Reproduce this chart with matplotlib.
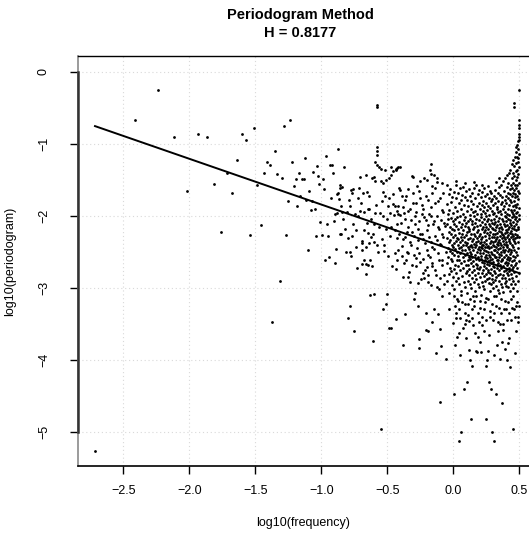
import matplotlib
matplotlib.use("Agg")
import matplotlib.pyplot as plt
import numpy as np

plt.rcParams['font.family'] = ['Liberation Sans', 'DejaVu Sans']

hurst = 0.8177
fit_intercept = -2.48
fit_slope = 1 - 2 * hurst

# lowest frequencies, read one by one (log10 freq, log10 periodogram)
low_freq = [
    (-2.714, -5.27), (-2.413, -0.67), (-2.237, -0.26), (-2.112, -0.90), (-2.015, -1.65),
    (-1.936, -0.86), (-1.869, -0.90), (-1.811, -1.56), (-1.760, -2.22), (-1.714, -1.40),
    (-1.673, -1.69), (-1.635, -1.23), (-1.600, -0.86), (-1.568, -0.95), (-1.538, -2.27),
    (-1.510, -0.78), (-1.484, -1.57), (-1.459, -2.13), (-1.435, -1.40), (-1.413, -1.25),
    (-1.392, -1.30), (-1.372, -3.48), (-1.352, -1.10), (-1.334, -1.42), (-1.316, -2.91),
    (-1.299, -1.48), (-1.283, -0.76), (-1.267, -2.27), (-1.252, -1.80), (-1.237, -0.67),
    (-1.223, -1.25), (-1.209, -1.59), (-1.195, -1.49), (-1.183, -1.87), (-1.170, -1.40),
    (-1.158, -1.72), (-1.146, -1.49), (-1.134, -1.49), (-1.123, -1.20), (-1.112, -1.78),
    (-1.101, -2.48), (-1.091, -1.65), (-1.081, -1.92), (-1.071, -1.79), (-1.061, -1.39),
    (-1.051, -1.90), (-1.042, -2.28), (-1.033, -1.31), (-1.024, -1.45), (-1.015, -1.56),
    (-1.006, -2.09), (-0.998, -2.27), (-0.990, -1.49), (-0.981, -1.63), (-0.973, -2.62),
    (-0.965, -1.17), (-0.958, -2.12), (-0.950, -2.28), (-0.942, -2.57), (-0.935, -1.30),
    (-0.928, -1.76), (-0.920, -1.29), (-0.913, -1.41), (-0.906, -2.08), (-0.899, -2.66),
    (-0.893, -1.97), (-0.886, -2.46), (-0.879, -1.70), (-0.873, -1.08), (-0.866, -1.77),
    (-0.860, -1.57), (-0.854, -2.26),
]

mid_freq = [
    (-0.83, -1.32), (-0.876, -1.68), (-0.86, -1.61), (-0.84, -1.60), (-0.775, -1.64),
    (-0.757, -1.63), (-0.765, -1.69), (-0.714, -1.61), (-0.707, -1.46), (-0.724, -1.75),
    (-0.681, -1.68), (-0.65, -1.67), (-0.64, -1.73), (-0.661, -1.44), (-0.618, -1.47),
    (-0.593, -1.52), (-0.60, -1.46), (-0.548, -1.52), (-0.53, -1.54), (-0.51, -1.50),
    (-0.49, -1.47), (-0.475, -1.44), (-0.455, -1.38), (-0.437, -1.35), (-0.417, -1.32),
    (-0.535, -1.67), (-0.518, -1.73), (-0.49, -1.76), (-0.46, -1.84), (-0.445, -1.87),
    (-0.417, -1.87), (-0.884, -1.96), (-0.85, -1.87), (-0.805, -1.95), (-0.782, -1.87),
    (-0.745, -1.97), (-0.707, -1.93), (-0.68, -1.95), (-0.644, -1.91), (-0.624, -2.05),
    (-0.593, -1.96), (-0.555, -1.96), (-0.53, -2.00), (-0.492, -1.87), (-0.48, -1.96),
    (-0.447, -1.99), (-0.421, -1.97), (-0.858, -2.26), (-0.82, -2.19), (-0.80, -2.31),
    (-0.77, -2.28), (-0.737, -2.20), (-0.694, -2.35), (-0.661, -2.44), (-0.644, -2.24),
    (-0.605, -2.26), (-0.58, -2.40), (-0.542, -2.33), (-0.51, -2.19), (-0.48, -2.28),
    (-0.43, -2.31), (-0.813, -2.51), (-0.775, -2.56), (-0.74, -2.44), (-0.694, -2.47),
    (-0.674, -2.61), (-0.644, -2.68), (-0.613, -2.70), (-0.567, -2.51), (-0.522, -2.49),
    (-0.492, -2.56), (-0.461, -2.70), (-0.437, -2.74), (-0.43, -2.61), (-0.783, -2.50),
    (-0.694, -2.38), (-0.636, -2.38), (-0.601, -2.36), (-0.727, -2.72), (-0.694, -2.67),
    (-0.661, -2.67), (-0.661, -2.81), (-0.631, -2.62), (-0.845, -1.95), (-0.835, -2.05),
    (-0.79, -1.78), (-0.76, -2.12), (-0.72, -2.00), (-0.70, -1.82), (-0.675, -2.20),
    (-0.655, -2.10), (-0.635, -1.90), (-0.62, -2.30), (-0.60, -2.12), (-0.585, -1.85),
    (-0.56, -2.16), (-0.54, -1.80), (-0.525, -2.40), (-0.505, -2.05), (-0.47, -2.15),
    (-0.455, -1.70), (-0.44, -2.52), (-0.425, -2.12), (-0.41, -1.62), (-0.55, -1.35),
    (-0.52, -1.36), (-0.47, -1.33), (-0.43, -1.34),
]

# the spike near -0.58
spike_freq = [
    (-0.58, -0.46), (-0.578, -0.49), (-0.578, -1.04), (-0.578, -1.10), (-0.58, -1.16),
    (-0.59, -1.26), (-0.575, -1.30), (-0.565, -1.33),
]

upper_mid_freq = [
    (-0.169, -1.28), (-0.177, -1.36), (-0.169, -1.42), (-0.144, -1.44), (-0.126, -1.47),
    (-0.404, -1.32), (-0.437, -1.37), (-0.31, -1.45), (-0.278, -1.59), (-0.202, -1.51),
    (-0.16, -1.59), (-0.088, -1.55), (-0.308, -1.46), (-0.25, -1.52), (-0.22, -1.48),
    (-0.05, -1.58), (-0.12, -1.53),
    (-0.404, -1.64), (-0.391, -1.73), (-0.366, -1.78), (-0.341, -1.63), (-0.303, -1.68),
    (-0.285, -1.83), (-0.252, -1.76), (-0.227, -1.90), (-0.189, -1.78), (-0.164, -1.69),
    (-0.139, -1.82), (-0.113, -1.80), (-0.088, -1.92), (-0.075, -1.69),
    (-0.429, -1.94), (-0.404, -1.99), (-0.371, -1.96), (-0.341, -1.94), (-0.32, -2.06),
    (-0.29, -2.01), (-0.26, -2.08), (-0.24, -1.97), (-0.21, -2.06), (-0.189, -2.13),
    (-0.169, -2.01), (-0.144, -2.08), (-0.119, -2.15), (-0.093, -2.06), (-0.068, -2.10),
    (-0.442, -2.20), (-0.411, -2.25), (-0.379, -2.32), (-0.353, -2.22), (-0.328, -2.36),
    (-0.295, -2.28), (-0.265, -2.34), (-0.235, -2.25), (-0.215, -2.38), (-0.184, -2.30),
    (-0.159, -2.43), (-0.126, -2.34), (-0.10, -2.39), (-0.075, -2.29),
    (-0.422, -2.48), (-0.391, -2.56), (-0.361, -2.62), (-0.341, -2.52), (-0.31, -2.69),
    (-0.285, -2.59), (-0.252, -2.64), (-0.227, -2.80), (-0.202, -2.71), (-0.189, -2.55),
    (-0.164, -2.66), (-0.139, -2.76), (-0.108, -2.62), (-0.088, -2.69), (-0.068, -2.83),
    (-0.379, -2.85), (-0.346, -2.85), (-0.328, -2.92), (-0.265, -2.94), (-0.22, -2.87),
    (-0.189, -2.83), (-0.169, -2.96), (-0.126, -2.99), (-0.10, -2.87), (-0.088, -3.12),
]

fill_mid_freq = [
    (-0.395, -2.10), (-0.388, -2.42), (-0.382, -1.88), (-0.375, -2.65), (-0.368, -2.05),
    (-0.362, -2.30), (-0.355, -1.72), (-0.348, -2.50), (-0.340, -2.15), (-0.333, -2.78),
    (-0.326, -1.90), (-0.318, -2.40), (-0.312, -2.22), (-0.305, -1.82), (-0.298, -2.55),
    (-0.292, -2.12), (-0.286, -2.70), (-0.280, -1.95), (-0.273, -2.45), (-0.268, -2.18),
    (-0.262, -1.66), (-0.256, -2.52), (-0.250, -2.25), (-0.244, -2.88), (-0.238, -1.85),
    (-0.232, -2.60), (-0.226, -2.32), (-0.220, -2.02), (-0.214, -2.75), (-0.208, -1.72),
    (-0.202, -2.48), (-0.196, -2.20), (-0.190, -2.92), (-0.184, -1.98), (-0.178, -2.58),
    (-0.172, -2.36), (-0.166, -1.88), (-0.160, -2.70), (-0.154, -2.12), (-0.148, -2.46),
    (-0.142, -1.62), (-0.136, -2.28), (-0.130, -2.82), (-0.124, -2.00), (-0.118, -2.52),
    (-0.112, -2.18), (-0.106, -3.02), (-0.100, -1.76), (-0.094, -2.40), (-0.088, -2.26),
    (-0.082, -2.62), (-0.076, -1.95), (-0.070, -2.95), (-0.064, -2.14), (-0.058, -2.50),
]

high_freq_a = [
    (-0.049, -2.31), (-0.048, -1.84), (-0.046, -2.66), (-0.045, -2.12), (-0.044, -2.90), (-0.042, -1.97), (-0.041, -2.45),
    (-0.039, -2.58), (-0.038, -2.05), (-0.036, -1.70), (-0.035, -2.37), (-0.033, -2.81), (-0.032, -2.22), (-0.031, -3.08),
    (-0.029, -1.92), (-0.028, -2.49), (-0.026, -2.15), (-0.025, -2.72), (-0.023, -1.63), (-0.022, -2.34), (-0.021, -2.60),
    (-0.019, -2.03), (-0.018, -2.77), (-0.016, -2.26), (-0.015, -1.81), (-0.013, -2.52), (-0.012, -2.96), (-0.011, -2.40),
    (-0.009, -2.18), (-0.008, -1.74), (-0.006, -2.63), (-0.005, -2.29), (-0.003, -2.85), (-0.002, -2.07), (-0.001, -2.44),
    (0.001, -1.96), (0.002, -2.55), (0.003, -2.20), (0.005, -2.74), (0.006, -1.67), (0.007, -2.38), (0.008, -3.02), (0.009, -2.11),
    (0.011, -2.46), (0.012, -1.88), (0.013, -2.68), (0.015, -2.27), (0.016, -2.05), (0.017, -2.90), (0.018, -1.58), (0.019, -2.35),
    (0.021, -2.14), (0.022, -2.79), (0.023, -1.76), (0.025, -2.50), (0.026, -2.31), (0.027, -2.02), (0.028, -2.62), (0.029, -3.15),
    (0.031, -1.93), (0.032, -2.41), (0.033, -2.70), (0.035, -2.18), (0.036, -1.69), (0.037, -2.56), (0.038, -2.33), (0.039, -2.87),
    (0.041, -2.24), (0.042, -1.83), (0.043, -2.61), (0.045, -2.45), (0.046, -2.09), (0.047, -2.95), (0.048, -1.62), (0.049, -2.37),
    (0.051, -2.52), (0.052, -2.00), (0.053, -2.75), (0.055, -2.29), (0.056, -1.78), (0.057, -2.43), (0.058, -3.05), (0.059, -2.16),
    (0.061, -1.90), (0.062, -2.66), (0.063, -2.34), (0.065, -2.12), (0.066, -2.84), (0.067, -1.71), (0.068, -2.48), (0.069, -2.25),
    (0.071, -2.40), (0.072, -1.97), (0.073, -2.72), (0.075, -2.20), (0.076, -1.60), (0.077, -2.58), (0.078, -2.92), (0.079, -2.06),
    (0.081, -2.30), (0.082, -1.85), (0.083, -2.63), (0.085, -2.47), (0.086, -2.14), (0.087, -2.99), (0.088, -1.74), (0.089, -2.36),
    (0.091, -2.55), (0.092, -2.02), (0.093, -2.80), (0.095, -2.27), (0.096, -1.66), (0.097, -2.41), (0.098, -2.68), (0.099, -2.10),
]

high_freq_b = [
    (0.101, -1.94), (0.102, -2.52), (0.103, -2.23), (0.104, -2.77), (0.105, -1.78), (0.106, -2.38), (0.107, -3.08), (0.108, -2.15), (0.109, -2.61), (0.1095, -2.44),
    (0.111, -2.33), (0.112, -1.87), (0.113, -2.69), (0.114, -2.08), (0.115, -2.90), (0.116, -1.63), (0.117, -2.46), (0.118, -2.21), (0.119, -2.57), (0.1195, -2.83),
    (0.121, -2.18), (0.122, -2.74), (0.123, -1.99), (0.124, -2.42), (0.125, -2.60), (0.126, -1.72), (0.127, -2.31), (0.128, -2.95), (0.129, -2.05), (0.1295, -2.50),
    (0.131, -2.40), (0.132, -1.91), (0.133, -2.65), (0.134, -2.26), (0.135, -3.00), (0.136, -1.80), (0.137, -2.53), (0.138, -2.12), (0.139, -2.78), (0.1395, -2.35),
    (0.141, -2.07), (0.142, -2.58), (0.143, -1.68), (0.144, -2.44), (0.145, -2.86), (0.146, -2.19), (0.147, -2.70), (0.148, -1.95), (0.149, -2.32), (0.1495, -3.12),
    (0.151, -2.48), (0.152, -1.84), (0.153, -2.63), (0.154, -2.25), (0.155, -2.92), (0.156, -2.01), (0.157, -1.62), (0.158, -2.39), (0.159, -2.76), (0.1595, -2.15),
    (0.161, -2.28), (0.162, -2.82), (0.163, -1.76), (0.164, -2.55), (0.165, -2.10), (0.166, -2.44), (0.167, -3.04), (0.168, -1.93), (0.169, -2.67), (0.1695, -2.36),
    (0.171, -2.60), (0.172, -2.04), (0.173, -1.58), (0.174, -2.41), (0.175, -2.88), (0.176, -2.22), (0.177, -2.73), (0.178, -1.87), (0.179, -2.50), (0.1795, -2.31),
    (0.181, -2.14), (0.182, -2.69), (0.183, -1.97), (0.184, -2.46), (0.185, -2.95), (0.186, -1.70), (0.187, -2.35), (0.188, -2.57), (0.189, -2.20), (0.1895, -2.80),
    (0.191, -2.43), (0.192, -1.82), (0.193, -2.62), (0.194, -2.28), (0.195, -2.99), (0.196, -2.06), (0.197, -2.74), (0.198, -1.64), (0.199, -2.52), (0.1995, -2.38),
]

high_freq_c = [
    (0.201, -2.25), (0.202, -2.71), (0.203, -1.90), (0.204, -2.48), (0.205, -2.13), (0.206, -2.85), (0.207, -1.74), (0.208, -2.37), (0.209, -2.60), (0.2093, -3.10), (0.2096, -2.02), (0.2099, -2.44),
    (0.211, -2.56), (0.212, -1.98), (0.213, -2.33), (0.214, -2.79), (0.215, -1.67), (0.216, -2.45), (0.217, -2.18), (0.218, -2.92), (0.219, -2.09), (0.2193, -2.64), (0.2196, -1.85), (0.2199, -2.40),
    (0.221, -2.30), (0.222, -2.75), (0.223, -1.79), (0.224, -2.52), (0.225, -2.15), (0.226, -2.97), (0.227, -2.41), (0.228, -1.94), (0.229, -2.66), (0.2293, -2.23), (0.2296, -1.61), (0.2299, -2.84),
    (0.231, -2.47), (0.232, -2.05), (0.233, -2.70), (0.234, -1.88), (0.235, -2.36), (0.236, -3.02), (0.237, -2.20), (0.238, -2.58), (0.239, -1.72), (0.2393, -2.43), (0.2396, -2.90), (0.2399, -2.12),
    (0.241, -2.62), (0.242, -1.96), (0.243, -2.28), (0.244, -2.81), (0.245, -2.49), (0.246, -1.83), (0.247, -2.39), (0.248, -2.16), (0.249, -2.73), (0.2493, -3.14), (0.2496, -2.01), (0.2499, -2.55),
    (0.251, -2.34), (0.252, -1.70), (0.253, -2.59), (0.254, -2.07), (0.255, -2.88), (0.256, -2.44), (0.257, -1.92), (0.258, -2.67), (0.259, -2.24), (0.2593, -2.78), (0.2596, -1.59), (0.2599, -2.50),
    (0.261, -2.19), (0.262, -2.76), (0.263, -1.86), (0.264, -2.42), (0.265, -2.63), (0.266, -2.04), (0.267, -2.93), (0.268, -1.75), (0.269, -2.31), (0.2693, -2.54), (0.2696, -2.11), (0.2699, -2.86),
    (0.271, -2.45), (0.272, -1.99), (0.273, -2.68), (0.274, -2.27), (0.275, -1.66), (0.276, -2.57), (0.277, -3.05), (0.278, -2.14), (0.279, -2.80), (0.2793, -2.38), (0.2796, -1.89), (0.2799, -2.61),
    (0.281, -2.22), (0.282, -2.74), (0.283, -1.80), (0.284, -2.51), (0.285, -2.35), (0.286, -2.95), (0.287, -2.06), (0.288, -1.69), (0.289, -2.43), (0.2893, -2.66), (0.2896, -2.17), (0.2899, -2.88),
    (0.291, -2.53), (0.292, -1.93), (0.293, -2.29), (0.294, -2.83), (0.295, -2.10), (0.296, -2.60), (0.297, -1.77), (0.298, -2.40), (0.299, -3.00), (0.2993, -2.25), (0.2996, -2.70), (0.2999, -1.98),
]

high_freq_d = [
    (0.3005, -2.36), (0.301, -1.85), (0.302, -2.64), (0.303, -2.18), (0.304, -2.92), (0.305, -2.47), (0.306, -1.72), (0.307, -2.30), (0.308, -2.77), (0.3085, -2.05), (0.309, -2.55), (0.3093, -3.11), (0.3097, -2.12),
    (0.3105, -2.42), (0.311, -1.96), (0.312, -2.71), (0.313, -2.26), (0.314, -1.64), (0.315, -2.58), (0.316, -2.89), (0.317, -2.09), (0.318, -2.48), (0.3185, -1.82), (0.319, -2.35), (0.3193, -2.80), (0.3197, -2.20),
    (0.3205, -2.57), (0.321, -2.01), (0.322, -2.33), (0.323, -2.85), (0.324, -1.76), (0.325, -2.44), (0.326, -2.15), (0.327, -2.98), (0.328, -2.62), (0.3285, -1.90), (0.329, -2.39), (0.3293, -2.69), (0.3297, -2.24),
    (0.3305, -2.13), (0.331, -2.72), (0.332, -1.88), (0.333, -2.50), (0.334, -2.29), (0.335, -3.03), (0.336, -1.68), (0.337, -2.41), (0.338, -2.61), (0.3385, -2.07), (0.339, -2.83), (0.3393, -2.37), (0.3397, -1.95),
    (0.3405, -2.46), (0.341, -1.79), (0.342, -2.66), (0.343, -2.21), (0.344, -2.90), (0.345, -2.03), (0.346, -2.53), (0.347, -1.60), (0.348, -2.34), (0.3485, -2.76), (0.349, -2.17), (0.3493, -2.58), (0.3497, -3.08),
    (0.3505, -2.28), (0.351, -2.81), (0.352, -1.93), (0.353, -2.45), (0.354, -2.12), (0.355, -2.68), (0.356, -1.71), (0.357, -2.38), (0.358, -2.95), (0.3585, -2.22), (0.359, -1.84), (0.3593, -2.55), (0.3597, -2.63),
    (0.3605, -2.40), (0.361, -1.98), (0.362, -2.73), (0.363, -2.16), (0.364, -1.58), (0.365, -2.51), (0.366, -2.87), (0.367, -2.04), (0.368, -2.31), (0.3685, -1.81), (0.369, -2.62), (0.3693, -2.26), (0.3697, -2.99),
    (0.3705, -2.19), (0.371, -2.60), (0.372, -1.74), (0.373, -2.43), (0.374, -2.82), (0.375, -2.08), (0.376, -2.35), (0.377, -1.52), (0.378, -2.70), (0.3785, -2.27), (0.379, -1.91), (0.3793, -2.48), (0.3797, -3.06),
    (0.3805, -2.50), (0.381, -1.87), (0.382, -2.30), (0.383, -2.77), (0.384, -2.11), (0.385, -1.66), (0.386, -2.57), (0.387, -2.39), (0.388, -2.93), (0.3885, -2.00), (0.389, -2.66), (0.3893, -1.78), (0.3897, -2.24),
    (0.3905, -2.33), (0.391, -2.86), (0.392, -1.95), (0.393, -2.47), (0.394, -1.48), (0.395, -2.14), (0.396, -2.64), (0.397, -2.02), (0.398, -2.75), (0.3985, -1.72), (0.399, -2.41), (0.3993, -2.20), (0.3997, -2.97),
]

high_freq_e = [
    (0.4005, -2.08), (0.401, -2.55), (0.4015, -1.83), (0.402, -2.36), (0.403, -2.91), (0.4035, -1.60), (0.404, -2.23), (0.405, -2.68), (0.4055, -1.97), (0.406, -2.44), (0.407, -2.79), (0.4075, -2.13), (0.408, -1.44), (0.409, -2.30), (0.4095, -2.60),
    (0.4105, -2.40), (0.411, -1.76), (0.4115, -2.65), (0.412, -2.18), (0.413, -2.99), (0.4135, -1.90), (0.414, -2.49), (0.415, -1.55), (0.4155, -2.27), (0.416, -2.83), (0.417, -2.05), (0.4175, -2.58), (0.418, -1.68), (0.419, -2.35), (0.4195, -2.72),
    (0.4205, -2.15), (0.421, -2.62), (0.4215, -1.41), (0.422, -2.33), (0.423, -1.85), (0.4235, -2.77), (0.424, -2.46), (0.425, -1.99), (0.4255, -2.88), (0.426, -1.63), (0.427, -2.24), (0.4275, -2.53), (0.428, -2.10), (0.429, -1.78), (0.4295, -3.04),
    (0.4305, -2.38), (0.431, -1.70), (0.4315, -2.59), (0.432, -2.06), (0.433, -1.36), (0.4335, -2.81), (0.434, -2.21), (0.435, -1.92), (0.4355, -2.47), (0.436, -1.57), (0.437, -2.69), (0.4375, -2.29), (0.438, -2.95), (0.439, -1.81), (0.4395, -2.13),
    (0.4405, -2.51), (0.441, -1.48), (0.4415, -2.26), (0.442, -1.28), (0.443, -2.74), (0.4435, -2.02), (0.444, -1.73), (0.445, -2.40), (0.4455, -2.86), (0.446, -1.95), (0.447, -2.17), (0.4475, -1.62), (0.448, -2.63), (0.449, -2.33), (0.4495, -3.01),
]

high_freq_f = [
    (0.4505, -2.09), (0.451, -1.55), (0.4515, -2.44), (0.452, -1.22), (0.4525, -2.71), (0.453, -1.86), (0.4535, -2.28), (0.454, -1.40), (0.4545, -2.56), (0.455, -1.97), (0.4555, -2.90), (0.456, -1.68), (0.4565, -2.35), (0.457, -2.14), (0.4575, -1.79), (0.458, -2.62), (0.459, -2.00),
    (0.4605, -1.92), (0.461, -2.47), (0.4615, -1.31), (0.462, -2.19), (0.4625, -1.64), (0.463, -2.78), (0.4635, -1.45), (0.464, -2.31), (0.4645, -1.18), (0.465, -2.05), (0.4655, -2.58), (0.466, -1.74), (0.4665, -2.95), (0.467, -1.57), (0.4675, -2.25), (0.468, -1.85), (0.469, -2.68),
    (0.4705, -1.70), (0.471, -2.38), (0.4715, -1.12), (0.472, -2.02), (0.4725, -1.50), (0.473, -2.66), (0.4735, -1.27), (0.474, -2.20), (0.4745, -1.88), (0.475, -2.84), (0.4755, -1.38), (0.476, -2.12), (0.4765, -1.61), (0.477, -2.50), (0.4775, -1.05), (0.478, -1.96), (0.479, -2.29),
    (0.4805, -1.58), (0.481, -2.27), (0.4815, -1.02), (0.482, -1.84), (0.4825, -1.36), (0.483, -2.55), (0.4835, -1.19), (0.484, -2.08), (0.4845, -1.73), (0.485, -2.72), (0.4855, -1.46), (0.486, -1.95), (0.4865, -1.25), (0.487, -2.36), (0.4875, -1.65), (0.488, -2.90), (0.489, -2.15),
    (0.4905, -1.42), (0.491, -2.18), (0.4915, -0.96), (0.492, -1.77), (0.4925, -1.20), (0.493, -2.45), (0.4935, -1.08), (0.494, -1.99), (0.4945, -1.55), (0.495, -2.63), (0.4955, -1.32), (0.496, -1.89), (0.4965, -1.14), (0.497, -2.30), (0.4975, -1.68), (0.498, -2.80), (0.4985, -2.05),
    (0.462, -0.44), (0.462, -0.49), (0.498, -0.25), (0.495, -0.67), (0.495, -0.74), (0.496, -0.78),
    (0.496, -0.86), (0.497, -0.90), (0.497, -0.95),
    (0.02, -1.52), (0.09, -1.55), (0.16, -1.53), (0.22, -1.57), (0.32, -1.53), (0.35, -1.48),
]

# scattered low values
low_values = [
    (-0.783, -3.26), (-0.795, -3.42), (-0.75, -3.60), (-0.631, -3.10), (-0.60, -3.09),
    (-0.606, -3.74), (-0.548, -4.96), (-0.53, -3.29), (-0.51, -3.23), (-0.50, -3.09),
    (-0.485, -3.56), (-0.474, -3.56), (-0.436, -3.43), (-0.383, -3.79), (-0.366, -3.36),
    (-0.295, -3.15), (-0.26, -3.71), (-0.26, -3.84), (-0.207, -3.59), (-0.19, -3.60),
    (-0.161, -3.47), (-0.131, -3.90), (-0.10, -4.59), (-0.093, -3.81), (-0.055, -3.99),
    (-0.03, -3.29), (-0.29, -3.08), (-0.27, -3.25), (-0.21, -3.35), (-0.144, -3.30),
    (-0.119, -3.36), (-0.10, -3.58),
    (0.0, -3.49), (0.005, -4.48), (0.023, -3.42), (0.03, -3.69), (0.053, -3.94),
    (0.045, -5.13), (0.058, -5.01), (0.079, -4.41), (0.101, -4.31), (0.119, -3.87),
    (0.126, -4.00), (0.139, -4.09), (0.134, -4.82), (0.18, -3.89), (0.212, -3.89),
    (0.263, -3.88), (0.253, -4.00), (0.248, -4.09), (0.27, -4.31), (0.286, -4.41),
    (0.324, -4.48), (0.25, -4.82), (0.295, -5.01), (0.306, -5.13), (0.371, -4.60),
    (0.354, -3.99), (0.455, -4.96), (0.308, -3.94), (0.045, -3.63), (0.071, -3.56),
    (0.089, -3.50), (0.121, -3.46), (0.152, -3.52), (0.164, -3.63), (0.189, -3.68),
    (0.197, -3.47), (0.172, -3.88), (0.01, -3.25), (0.04, -3.30), (0.065, -3.20),
    (0.09, -3.35), (0.11, -3.22), (0.14, -3.30), (0.16, -3.18), (0.20, -3.28),
    (0.22, -3.40), (0.24, -3.20), (0.28, -3.32), (0.30, -3.45), (0.32, -3.25),
    (0.34, -3.60), (0.36, -3.35), (0.38, -3.50), (0.40, -3.30), (0.42, -3.70),
    (0.44, -3.45), (0.46, -3.30), (0.475, -3.60), (0.49, -3.40), (0.39, -3.85),
    (0.43, -4.10), (0.47, -3.90), (0.41, -4.00), (0.37, -3.75), (0.33, -3.80),
    (0.23, -3.60), (0.27, -3.65), (0.20, -3.75), (0.10, -3.70), (0.015, -3.80),
    (0.492, -3.47), (0.473, -3.26), (0.417, -3.77), (0.379, -3.59), (0.34, -3.47),
    (0.005, -3.12), (0.02, -3.35), (0.035, -3.18), (0.05, -3.42), (0.06, -3.10),
    (0.085, -3.22), (0.095, -3.45), (0.115, -3.38), (0.125, -3.15), (0.145, -3.42),
    (0.155, -3.25), (0.175, -3.12), (0.185, -3.35), (0.205, -3.18), (0.215, -3.52),
    (0.235, -3.30), (0.245, -3.45), (0.26, -3.15), (0.275, -3.40), (0.29, -3.22),
    (0.31, -3.35), (0.325, -3.12), (0.345, -3.28), (0.355, -3.50), (0.365, -3.15),
    (0.385, -3.30), (0.395, -3.18), (0.405, -3.45), (0.415, -3.20), (0.425, -3.35),
    (0.435, -3.15), (0.445, -3.28), (0.455, -3.12), (0.465, -3.40), (0.48, -3.20),
    (0.485, -3.05), (0.495, -3.25),
]

all_points = (low_freq + mid_freq + spike_freq + upper_mid_freq + fill_mid_freq
              + high_freq_a + high_freq_b + high_freq_c + high_freq_d + high_freq_e
              + high_freq_f + low_values)
log_freq, log_pgram = np.array(all_points).T

x_ticks = [-2.5, -2.0, -1.5, -1.0, -0.5, 0.0, 0.5]
x_tick_labels = ['\u22122.5', '\u22122.0', '\u22121.5', '\u22121.0', '\u22120.5', '0.0', '0.5']
y_ticks = [0, -1, -2, -3, -4, -5]
y_tick_labels = ['0', '\u22121', '\u22122', '\u22123', '\u22124', '\u22125']

fig = plt.figure(figsize=(5.29, 5.33), dpi=100)
ax = fig.add_axes([77.7 / 529, 67 / 533, 1 - 77.7 / 529, 410 / 533])

xmin, xmax = -2.845, 0.5735
ymin, ymax = -5.476, 0.218

for t in x_ticks:
    ax.axvline(t, color='#d9d9d9', lw=0.8, ls=(0, (1, 2.5)), zorder=0)
for t in y_ticks:
    ax.axhline(t, color='#d9d9d9', lw=0.8, ls=(0, (1, 2.5)), zorder=0)

ax.plot(log_freq, log_pgram, 'o', ms=2.0, color='black', mec='none', zorder=3)

line_x = np.array([log_freq.min(), log_freq.max()])
ax.plot(line_x, fit_intercept + fit_slope * line_x, color='black', lw=1.4, zorder=4)

ax.set_xlim(xmin, xmax)
ax.set_ylim(ymin, ymax)

ax.spines['right'].set_visible(False)
ax.spines['top'].set_color('black')
ax.spines['top'].set_linewidth(1.0)
ax.spines['bottom'].set_color('black')
ax.spines['bottom'].set_linewidth(1.2)
ax.spines['left'].set_color('#8a8a8a')
ax.spines['left'].set_linewidth(1.2)
# axis line between the outer ticks
ax.plot([xmin, xmin], [-5, 0], color='#333333', lw=1.8, clip_on=False, zorder=5)

ax.set_xticks(x_ticks)
ax.set_xticklabels(x_tick_labels)
ax.set_yticks(y_ticks)
ax.set_yticklabels(y_tick_labels, rotation=90, va='center')
ax.tick_params(axis='both', direction='out', length=6, width=1.0, color='black',
               labelsize=9, labelcolor='black')
ax.tick_params(axis='x', pad=8)
ax.tick_params(axis='y', pad=14)

ax.set_xlabel('log10(frequency)', fontsize=9, labelpad=14)
ax.set_ylabel('log10(periodogram)', fontsize=9, labelpad=16)

fig.text(300 / 529, 1 - 15 / 533, 'Periodogram Method', ha='center', va='center',
         fontsize=10.5, fontweight='bold')
fig.text(300 / 529, 1 - 33 / 533, 'H = %.4f' % hurst, ha='center', va='center',
         fontsize=10.5, fontweight='bold')

fig.savefig('out.png', dpi=100)
